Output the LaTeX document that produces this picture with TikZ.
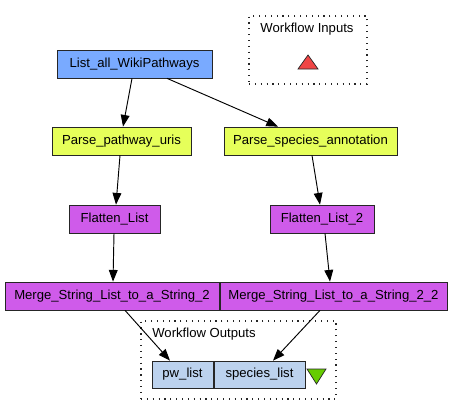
\documentclass[tikz,border=0pt]{standalone}
\usepackage{fontspec}
\setmainfont{Liberation Sans}
\usetikzlibrary{arrows.meta}
\definecolor{procblue}{HTML}{79AAFF}
\definecolor{procyellow}{HTML}{E6FF5A}
\definecolor{procpurple}{HTML}{CF5BEA}
\definecolor{portblue}{HTML}{BCD2EE}
\definecolor{inred}{HTML}{F04545}
\definecolor{outgreen}{HTML}{66CC00}
\begin{document}
\begin{tikzpicture}[
    x=0.03cm, y=-0.03cm,
    font=\fontsize{11.2}{13}\selectfont,
    box/.style={draw=black!85, semithick, rectangle, inner xsep=2pt, minimum height=0.84cm},
    cluster/.style={draw=black!85, line width=1pt, dash pattern=on 1pt off 4pt, rectangle, inner sep=0pt},
    arrow/.style={-{Triangle[length=10pt,width=7.5pt]}, thick, black}
]
\useasboundingbox (0,0) rectangle (452,416);

% Clusters
\node[cluster, minimum width=3.54cm, minimum height=2.04cm] (inputs) at (308,50) {};
\node at (307,29) (inputstitle) {Workflow Inputs};
\node[cluster, minimum width=5.85cm, minimum height=2.34cm] (outputs) at (238.5,360) {};
\node at (204,334) (outputstitle) {Workflow Outputs};

% Processors
\node[box, fill=procblue,   minimum width=4.65cm] (list)    at (134.5,64)  {List\_all\_WikiPathways};
\node[box, fill=procyellow, minimum width=4.17cm] (uris)    at (121.5,141) {Parse\_pathway\_uris};
\node[box, fill=procyellow, minimum width=5.19cm] (species) at (310.5,141) {Parse\_species\_annotation};
\node[box, fill=procpurple, minimum width=2.73cm] (flat)    at (114.5,219) {Flatten\_List};
\node[box, fill=procpurple, minimum width=3.12cm] (flattwo) at (322,219)   {Flatten\_List\_2};
\node[box, fill=procpurple, minimum width=6.42cm] (merge)   at (112,296)   {Merge\_String\_List\_to\_a\_String\_2};
\node[box, fill=procpurple, minimum width=6.81cm] (mergetwo) at (333.5,296) {Merge\_String\_List\_to\_a\_String\_2\_2};

% Output ports
\node[box, fill=portblue, minimum width=1.83cm, minimum height=0.81cm] (pwlist)  at (182.5,374.5) {pw\_list};
\node[box, fill=portblue, minimum width=2.73cm, minimum height=0.81cm] (splist)  at (259.5,374.5) {species\_list};

% Port markers
\filldraw[fill=inred, draw=black!85, semithick] (298,69) -- (318,69) -- (308,55) -- cycle;
\filldraw[fill=outgreen, draw=black!85, semithick] (307,369) -- (326,369) -- (316.5,384) -- cycle;

% Arrows
\draw[arrow] ([xshift=-0.075cm]list.south) -- ([xshift=0.045cm]uris.north);
\draw[arrow] ([xshift=0.975cm]list.south) -- ([xshift=-0.975cm]species.north);
\draw[arrow] ([xshift=-0.045cm]uris.south) -- ([xshift=0.045cm]flat.north);
\draw[arrow] ([xshift=0.045cm]species.south) -- ([xshift=-0.06cm]flattwo.north);
\draw[arrow] ([xshift=-0.015cm]flat.south) -- ([xshift=0.03cm]merge.north);
\draw[arrow] ([xshift=0.09cm]flattwo.south) -- ([xshift=-0.105cm]mergetwo.north);
\draw[arrow] ([xshift=0.39cm]merge.south) -- ([xshift=-0.375cm]pwlist.north);
\draw[arrow] ([xshift=-0.405cm]mergetwo.south) -- ([xshift=0.405cm]splist.north);

\end{tikzpicture}
\end{document}
